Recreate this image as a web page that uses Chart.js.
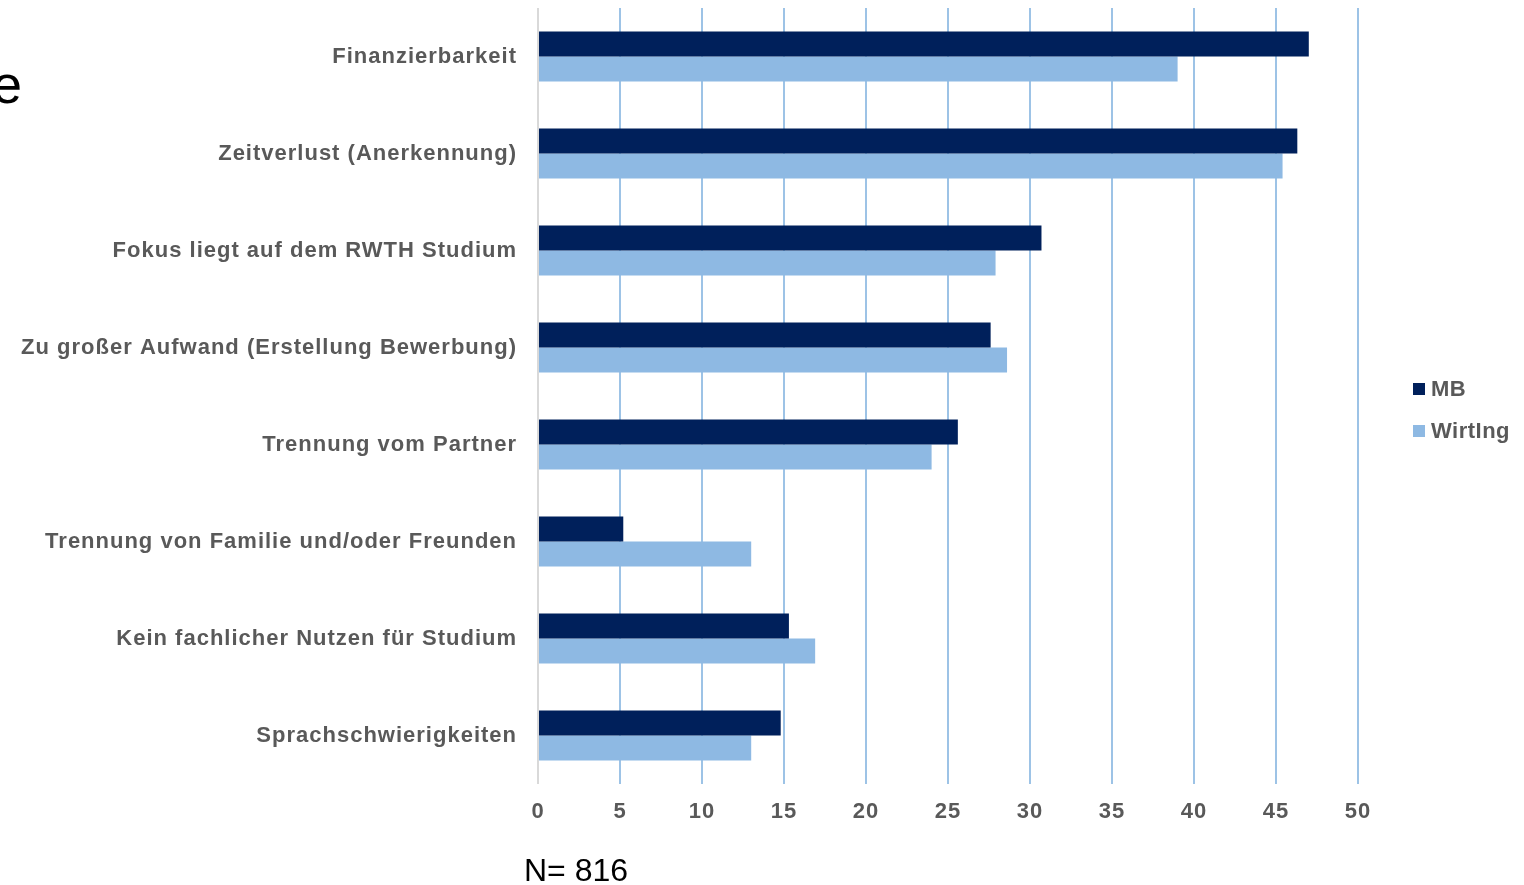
<!DOCTYPE html>
<html>
<head>
<meta charset="utf-8">
<script src="https://cdn.jsdelivr.net/npm/chart.js@4.4.0/dist/chart.umd.min.js"></script>
<style>
  body { margin: 0; background: #fff; font-family: 'Liberation Sans', Arial, sans-serif; }
  #wrap { position: relative; width: 1524px; height: 885px; overflow: hidden; }
  canvas { position: absolute; left: 0; top: 0; }
  .frag { position: absolute; left: -8px; top: 57px; font-size: 54px; color: #000; line-height: 1; }
  .note { position: absolute; left: 524px; top: 854px; font-size: 32px; color: #000; line-height: 1; }
  .legend { position: absolute; left: 1413px; top: 376px; font-weight: bold; font-size: 22px; color: #595959; letter-spacing: 0.5px; }
  .legend div { height: 42px; display: flex; align-items: flex-start; }
  .legend span.box { display: inline-block; width: 12px; height: 12px; margin: 7px 6px 0 0; }
</style>
</head>
<body>
<div id="wrap">
  <canvas id="chart" width="1524" height="885"></canvas>
  <div class="frag">e</div>
  <div class="note">N= 816</div>
  <div class="legend">
    <div><span class="box" style="background:#00205B"></span>MB</div>
    <div><span class="box" style="background:#8EB9E3"></span>WirtIng</div>
  </div>
</div>
<script>
// Daten
const categories = [
    'Finanzierbarkeit',
    'Zeitverlust (Anerkennung)',
    'Fokus liegt auf dem RWTH Studium',
    'Zu großer Aufwand (Erstellung Bewerbung)',
    'Trennung vom Partner',
    'Trennung von Familie und/oder Freunden',
    'Kein fachlicher Nutzen für Studium',
    'Sprachschwierigkeiten'
];
const mbValues = [47.0, 46.3, 30.7, 27.6, 25.6, 5.2, 15.3, 14.8];
const wirtIngValues = [39.0, 45.4, 27.9, 28.6, 24.0, 13.0, 16.9, 13.0];
const xMin = 0;
const xMax = 50;
const xStep = 5;

const labelColor = '#595959';
const labelFont = { family: "'Liberation Sans', Arial, sans-serif", size: 22, weight: 'bold' };

// Buchstabenabstand wie im Original
const spacingPlugin = {
    id: 'spacing',
    beforeInit(chart) { chart.ctx.letterSpacing = '1px'; },
    beforeDraw(chart) { chart.ctx.letterSpacing = '1px'; }
};

new Chart(document.getElementById('chart').getContext('2d'), {
    type: 'bar',
    data: {
        labels: categories,
        datasets: [
            {
                label: 'MB',
                data: mbValues,
                backgroundColor: '#00205B',
                categoryPercentage: 0.515,
                barPercentage: 1.0
            },
            {
                label: 'WirtIng',
                data: wirtIngValues,
                backgroundColor: '#8EB9E3',
                categoryPercentage: 0.515,
                barPercentage: 1.0
            }
        ]
    },
    options: {
        indexAxis: 'y',
        responsive: false,
        animation: false,
        layout: { padding: { top: 8, right: 166, bottom: 0, left: 0 } },
        plugins: {
            legend: { display: false },
            tooltip: { enabled: false }
        },
        scales: {
            x: {
                min: xMin,
                max: xMax,
                ticks: {
                    stepSize: xStep,
                    padding: 15,
                    color: labelColor,
                    font: labelFont
                },
                grid: {
                    drawTicks: false,
                    lineWidth: 2,
                    color: ctx => ctx.index === 0 ? '#D9D9D9' : '#9DC3E6'
                },
                border: { display: false },
                afterFit(scale) {
                    scale.height = 101;
                    scale.paddingLeft = 0;
                    scale.paddingRight = 0;
                }
            },
            y: {
                ticks: {
                    padding: 21,
                    color: labelColor,
                    font: labelFont
                },
                grid: { display: false, drawTicks: false },
                border: { display: false },
                afterFit(scale) {
                    scale.width = 538;
                    scale.paddingTop = 0;
                    scale.paddingBottom = 0;
                }
            }
        }
    },
    plugins: [spacingPlugin]
});
</script>
</body>
</html>
